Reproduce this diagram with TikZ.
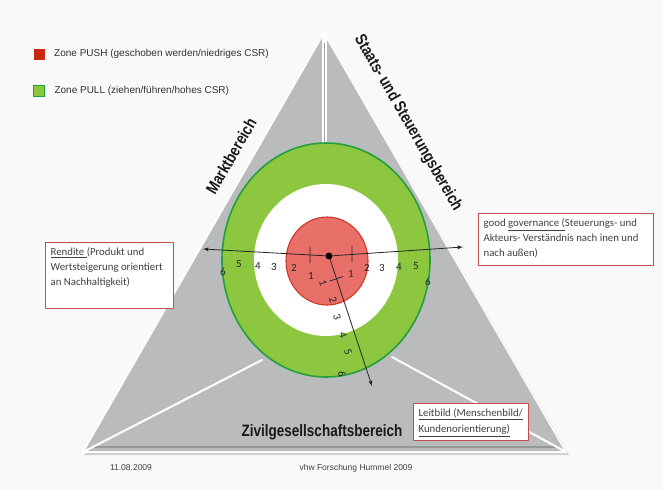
\documentclass[tikz,border=0pt]{standalone}
\usepackage{graphicx}
\usepackage{fontspec}
\setmainfont{Liberation Sans}
\newfontfamily\calfont{Carlito}
\usetikzlibrary{arrows,calc,positioning}

\definecolor{pagebg}{RGB}{249,249,249}
\definecolor{pyrgray}{RGB}{186,187,188}
\definecolor{pyrdark}{RGB}{150,151,152}
\definecolor{pullgreen}{RGB}{141,198,63}
\definecolor{pullline}{RGB}{34,160,60}
\definecolor{pushred}{RGB}{232,112,105}
\definecolor{pushline}{RGB}{205,55,40}
\definecolor{boxred}{RGB}{192,80,77}
\definecolor{legred}{RGB}{200,40,15}

\newcommand{\areatext}[1]{\scalebox{0.82}[1]{#1}}

\begin{document}
\begin{tikzpicture}[x=1pt,y=-1pt,line join=round,line cap=round,>=latex,
  infobox/.style={draw=boxred,line width=1.2pt,fill=white,inner sep=5pt,anchor=north west,text=black!75},
  axisnum/.style={font=\calfont\fontsize{11}{11}\selectfont,inner sep=0pt,text=black!85},
  area/.style={font=\bfseries\fontsize{16.5}{17}\selectfont,inner sep=0pt,text=black!90},
  legbox/.style={minimum size=11pt,inner sep=0pt},
  legtext/.style={anchor=west,font=\fontsize{10}{12}\selectfont,text=black!80},
  axis/.style={black!85,line width=0.8pt}]
\fill[pagebg] (0,0) rectangle (663,490);
\useasboundingbox (0,0) rectangle (663,490);
% pyramid
\coordinate (T) at (324,33);
\coordinate (L) at (83,452);
\coordinate (R) at (566,452);
\fill[black!18] ($(T)+(2,2)$) -- ($(L)+(1,3)$) -- ($(R)+(3,3)$) -- cycle;
\fill[pyrgray] (T) -- (L) -- (R) -- cycle;
\draw[pyrdark,line width=2.5pt] ($(L)+(10,-5)$) -- ($(R)+(-10,-5)$);
\draw[white,line width=1.6pt] (T) -- (L) -- (R) -- cycle;
\draw[white,line width=2pt] (L) -- (262,360) (R) -- (392,357);
\draw[white,line width=5pt] (T) -- (324,150);
\draw[pyrgray!85!black,line width=1pt] ($(T)+(0,10)$) -- (324,150);
% target
\coordinate (O) at (326,260);
\draw[pullline,fill=pullgreen,line width=1.6pt] (O) ellipse [x radius=104,y radius=117];
\fill[white] (O) ellipse [x radius=72,y radius=76];
\draw[pushline,fill=pushred,line width=1.1pt] (327,261) ellipse [x radius=41,y radius=44];
% axes
\node[circle,fill=black,inner sep=0pt,minimum size=7pt] (c) at (329,256) {};
\coordinate (la) at (203,249);
\coordinate (ra) at (463,247);
\coordinate (da) at (372,386);
\draw[axis,->] (c) -- (la);
\draw[axis,->] (c) -- (ra);
\draw[axis,->] (c) -- (da);
\draw[axis] (310,247) -- (310,263) (352,246) -- (352,262) (330,281) -- (343,276.5);
\foreach \n/\x/\y in {6/223/272,5/239/264,4/258/266,3/274/267,2/294/268,1/311/276,
  1/351/274,2/367/268,3/382/268,4/399/267,5/416/266,6/428/282}
  {\node[axisnum] at (\x,\y) {\n};}
\foreach \n/\x/\y in {1/323/283,2/333/300,3/337/317,4/343/335,5/348/352,6/342/374}
  {\node[axisnum,rotate=-72] at (\x,\y) {\n};}
% areas
\node[area,rotate=60] (markt) at (231,156) {\areatext{Marktbereich}};
\node[area,rotate=-60] (staat) at (408,123) {\areatext{Staats- und Steuerungsbereich}};
\node[area] (zivil) at (322,432) {\areatext{Zivilgesellschaftsbereich}};
% boxes
\node[infobox,font=\calfont\fontsize{10.8}{15}\selectfont] (rendite) at (45,242)
  {\parbox[t][56pt][t]{118pt}{\raggedright\underline{Rendite\ }(Produkt und\\Wertsteigerung orientiert\\an Nachhaltigkeit)}};
\node[infobox,font=\calfont\fontsize{10.8}{15}\selectfont] (gov) at (478,213)
  {\parbox[t][42pt][t]{165pt}{\raggedright good \underline{governance (}Steuerungs- und\\Akteurs- Verständnis nach inen und\\nach außen)}};
\node[infobox,font=\calfont\fontsize{10.8}{16}\selectfont] (leit) at (413,403)
  {\parbox[t][27pt][t]{105pt}{\raggedright\underline{Leitbild (Menschenbild/}\\\underline{Kundenorientierung)}}};
% legend
\node[legbox,fill=legred] (pushkey) at (39,54) {};
\node[legtext,right=6pt of pushkey] (pushtext) {Zone PUSH (geschoben werden/niedriges CSR)};
\node[legbox,fill=pullgreen,draw=pullline,line width=1pt] (pullkey) at (39,91) {};
\node[legtext,right=6pt of pullkey] (pulltext) {Zone PULL (ziehen/führen/hohes CSR)};
% footer
\node[font=\fontsize{8.5}{10}\selectfont,text=black!75] (datum) at (131,468) {11.08.2009};
\node[font=\fontsize{8.5}{10}\selectfont,text=black!75] (quelle) at (356,468) {vhw Forschung Hummel 2009};
\end{tikzpicture}
\end{document}
